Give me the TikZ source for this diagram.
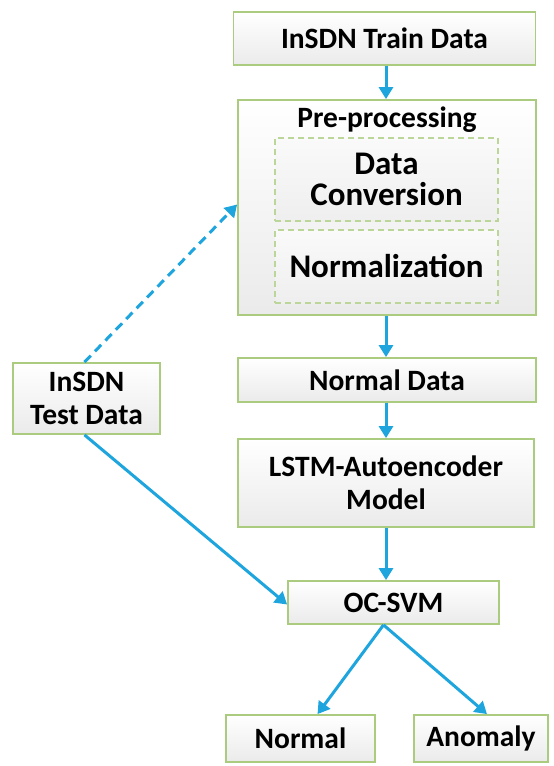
\documentclass[tikz,border=0pt]{standalone}
\usepackage{fontspec}
\setmainfont{Carlito}
\usetikzlibrary{arrows.meta,positioning}
\definecolor{boxline}{HTML}{ABCB7E}
\definecolor{flow}{HTML}{1FA5DE}
\tikzset{
  box/.style={draw=boxline, line width=1.8pt, top color=white, bottom color=gray!16,
    inner sep=0pt, align=center, font=\fontsize{29.5}{32.5}\selectfont\bfseries},
  subbox/.style={draw=boxline!80, line width=1.2pt, dashed, dash pattern=on 6pt off 4pt,
    top color=gray!4, bottom color=gray!13, inner sep=0pt, align=center,
    font=\fontsize{33}{31}\selectfont\bfseries},
  flowarrow/.style={draw=flow, line width=3pt, -{Triangle[length=12pt,width=14pt]}},
}
\begin{document}
\begin{tikzpicture}[x=1pt,y=-1pt]
\useasboundingbox (0,0) rectangle (554,766);
% main column
\node[box, minimum width=302pt, minimum height=53pt] (train) at (384.5,38.5) {InSDN Train Data};
\node[box, minimum width=298pt, minimum height=215pt] (pre) at (387,207.5) {};
\node[font=\fontsize{29.5}{32}\selectfont\bfseries] (pretitle) at (387,120) {Pre-processing};
\node[subbox, minimum width=223pt, minimum height=83pt] (conv) at (386.5,179.5) {Data\\Conversion};
\node[subbox, minimum width=223pt, minimum height=73pt] (norm) at (386.5,266.5) {Normalization};
\node[box, minimum width=298pt, minimum height=44pt] (normal) at (387,380) {Normal Data};
\node[box, minimum width=296pt, minimum height=88pt] (lstm) at (386,483) {LSTM-Autoencoder\\Model};
\node[box, minimum width=211pt, minimum height=43pt] (ocsvm) at (393.5,602.5) {OC-SVM};
\node[box, minimum width=149pt, minimum height=47pt] (outnormal) at (300.5,738.5) {Normal};
\node[box, minimum width=134pt, minimum height=47pt] (outanomaly) at (481,738.5) {Anomaly};
% side input
\node[box, minimum width=147pt, minimum height=71pt] (test) at (86.5,398.5) {InSDN\\Test Data};
% connectors
\draw[flowarrow] ([xshift=1.5pt]train.south) -- ([xshift=-1pt]pre.north);
\draw[flowarrow] ([xshift=-1pt]pre.south) -- ([xshift=-1pt]normal.north);
\draw[flowarrow] ([xshift=-1pt]normal.south) -- ([xshift=0pt]lstm.north);
\draw[flowarrow] (lstm.south) -- ([xshift=-7.5pt]ocsvm.north);
\draw[flowarrow] ([xshift=-10pt]ocsvm.south) -- ([xshift=17pt]outnormal.north);
\draw[flowarrow] ([xshift=-10pt]ocsvm.south) -- ([xshift=6pt]outanomaly.north);
\draw[flowarrow] ([xshift=-2pt]test.south) -- ([yshift=-2pt]ocsvm.west);
\draw[flowarrow, dash pattern=on 9pt off 6pt] ([xshift=-2pt]test.north) -- ([yshift=3pt]pre.west);
\end{tikzpicture}
\end{document}
